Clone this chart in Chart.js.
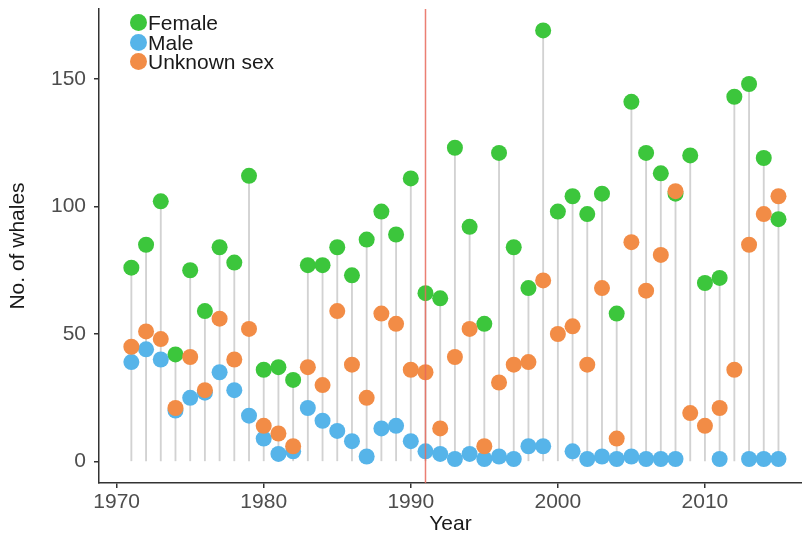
<!DOCTYPE html>
<html>
<head>
<meta charset="utf-8">
<title>Whales by sex</title>
<script src="https://cdn.jsdelivr.net/npm/chart.js@4"></script>
<style>
  html, body { margin: 0; padding: 0; background: #fff; }
  #wrap { position: relative; width: 802px; height: 537px; }
  #legend {
    position: absolute; left: 130px; top: 13px;
    font-family: 'Liberation Sans', Arial, sans-serif; font-size: 21px; color: #1a1a1a;
    line-height: 19.5px;
  }
  #legend div { display: flex; align-items: center; }
  #legend span.dot { display: inline-block; width: 17px; height: 17px; border-radius: 50%; margin-right: 1px; }
</style>
</head>
<body>
<div id="wrap">
  <canvas id="whaleChart" width="802" height="537"></canvas>
  <div id="legend"></div>
</div>
<script>
// Dados
const years = [1971, 1972, 1973, 1974, 1975, 1976, 1977, 1978, 1979, 1980,
               1981, 1982, 1983, 1984, 1985, 1986, 1987, 1988, 1989, 1990,
               1991, 1992, 1993, 1994, 1995, 1996, 1997, 1998, 1999, 2000,
               2001, 2002, 2003, 2004, 2005, 2006, 2007, 2008, 2009, 2010,
               2011, 2012, 2013, 2014, 2015];
const female = [76, 85, 102, 42, 75, 59, 84, 78, 112, 36,
                37, 32, 77, 77, 84, 73, 87, 98, 89, 111,
                66, 64, 123, 92, 54, 121, 84, 68, 169, 98,
                104, 97, 105, 58, 141, 121, 113, 105, 120, 70,
                72, 143, 148, 119, 95];
const male = [39, 44, 40, 20, 25, 27, 35, 28, 18, 9,
              3, 4, 21, 16, 12, 8, 2, 13, 14, 8,
              4, 3, 1, 3, 1, 2, 1, 6, 6, null,
              4, 1, 2, 1, 2, 1, 1, 1, null, null,
              1, null, 1, 1, 1];
const unknown = [45, 51, 48, 21, 41, 28, 56, 40, 52, 14,
                 11, 6, 37, 30, 59, 38, 25, 58, 54, 36,
                 35, 13, 41, 52, 6, 31, 38, 39, 71, 50,
                 53, 38, 68, 9, 86, 67, 81, 106, 19, 14,
                 21, 36, 85, 97, 104];
const xTicks = [1970, 1980, 1990, 2000, 2010];
const yTicks = [0, 50, 100, 150];
const changeYear = 1991;

const series = [
  { label: 'Female', values: female, color: '#3cc63c' },
  { label: 'Male', values: male, color: '#56b4e9' },
  { label: 'Unknown sex', values: unknown, color: '#f28c46' }
];

const fontFamily = "'Liberation Sans', Arial, sans-serif";

// linhas verticais de 0 até o maior valor do ano
const stems = years.map((yr, i) => {
  const vals = [female[i], male[i], unknown[i]].filter(v => v !== null);
  return { x: yr, y: [0, Math.max(...vals)] };
});

// linha vermelha vertical no ano de mudança
const changeLinePlugin = {
  id: 'changeLine',
  afterDatasetsDraw(chart) {
    const { ctx, chartArea, scales } = chart;
    const px = scales.x.getPixelForValue(changeYear);
    ctx.save();
    ctx.strokeStyle = 'rgba(232, 105, 90, 0.85)';
    ctx.lineWidth = 1.5;
    ctx.beginPath();
    ctx.moveTo(px, chartArea.top);
    ctx.lineTo(px, chartArea.bottom);
    ctx.stroke();
    ctx.restore();
  }
};

const datasets = series.map((s, k) => ({
  type: 'scatter',
  label: s.label,
  data: years.map((yr, i) => ({ x: yr, y: s.values[i] })),
  backgroundColor: s.color,
  borderWidth: 0,
  pointRadius: 8,
  pointHoverRadius: 8,
  order: 3 - k
}));

datasets.push({
  type: 'bar',
  label: 'stems',
  data: stems,
  backgroundColor: '#d2d2d2',
  barThickness: 1.2,
  order: 10
});

const axisColor = '#333333';

new Chart(document.getElementById('whaleChart').getContext('2d'), {
  type: 'scatter',
  data: { datasets: datasets },
  plugins: [changeLinePlugin],
  options: {
    responsive: false,
    animation: false,
    layout: { autoPadding: false, padding: { top: 9, right: 0, left: 0, bottom: 0 } },
    plugins: {
      legend: { display: false },
      tooltip: { enabled: false }
    },
    scales: {
      x: {
        type: 'linear',
        offset: false,
        min: 1968.8,
        max: 2016.6,
        afterBuildTicks: axis => { axis.ticks = xTicks.map(v => ({ value: v })); },
        afterFit: axis => {
          axis.height = 54;
          axis.paddingLeft = 0;
          axis.paddingRight = 0;
        },
        grid: { offset: false, drawOnChartArea: false, drawTicks: true, tickLength: 5, color: axisColor, lineWidth: 1.5 },
        border: { display: true, color: axisColor, width: 1.5 },
        ticks: {
          color: '#4d4d4d', padding: 2,
          font: { family: fontFamily, size: 21 },
          maxRotation: 0,
          callback: v => String(v)
        },
        title: {
          display: true, text: 'Year', color: '#1a1a1a',
          font: { family: fontFamily, size: 21 },
          padding: { top: 0, bottom: 0 }
        }
      },
      y: {
        type: 'linear',
        min: -8.4,
        max: 177.4,
        afterBuildTicks: axis => { axis.ticks = yTicks.map(v => ({ value: v })); },
        afterFit: axis => {
          axis.width = 99;
          axis.paddingTop = 0;
          axis.paddingBottom = 0;
        },
        grid: { drawOnChartArea: false, drawTicks: true, tickLength: 5, color: axisColor, lineWidth: 1.5 },
        border: { display: true, color: axisColor, width: 1.5 },
        ticks: {
          color: '#4d4d4d', padding: 8,
          font: { family: fontFamily, size: 21 },
          callback: v => String(v)
        },
        title: {
          display: true, text: 'No. of whales', color: '#1a1a1a',
          font: { family: fontFamily, size: 21 },
          padding: { top: 6, bottom: 0 }
        }
      }
    }
  }
});

// legenda em HTML dentro da área do gráfico
const legend = document.getElementById('legend');
series.forEach(s => {
  const row = document.createElement('div');
  const dot = document.createElement('span');
  dot.className = 'dot';
  dot.style.background = s.color;
  row.appendChild(dot);
  row.appendChild(document.createTextNode(s.label));
  legend.appendChild(row);
});
</script>
</body>
</html>
